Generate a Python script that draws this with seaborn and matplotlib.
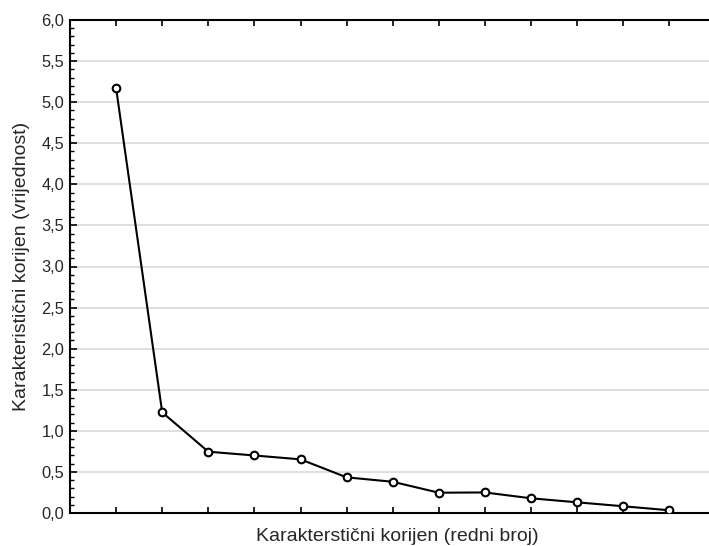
import matplotlib
matplotlib.use('Agg')
import matplotlib.pyplot as plt
import seaborn as sns
import pandas as pd
from matplotlib.ticker import FuncFormatter, MultipleLocator

# eigenvalues (scree plot)
root_number = list(range(1, 14))
eigenvalues = [5.17, 1.225, 0.746, 0.70, 0.653, 0.434, 0.38, 0.247, 0.25, 0.179, 0.13, 0.082, 0.033]

df = pd.DataFrame({'Root': root_number, 'Eigenvalue': eigenvalues})

sns.set_style('white')
plt.rcParams['font.family'] = ['Liberation Sans', 'DejaVu Sans']

fig = plt.figure(figsize = (7.09, 5.46), dpi = 100)
ax = fig.add_axes([70 / 709, 33 / 546, 639 / 709, 493 / 546])

sns.lineplot(x = 'Root', y = 'Eigenvalue', data = df, color = 'black', linewidth = 1.5,
             marker = 'o', markersize = 5.5, markerfacecolor = 'white', markeredgecolor = 'black',
             markeredgewidth = 1.5, ax = ax, zorder = 3)

ax.set_xlim(0, 13.86)
ax.set_ylim(0, 6)
ax.set_xticks(root_number)
ax.set_xticklabels([])
ax.yaxis.set_major_locator(MultipleLocator(0.5))
ax.yaxis.set_minor_locator(MultipleLocator(0.1))
ax.yaxis.set_major_formatter(FuncFormatter(lambda v, p: ('%.1f' % v).replace('.', ',')))
ax.grid(axis = 'y', color = '#d9d9d9', linewidth = 1.2, zorder = 0)
ax.set_axisbelow(True)

ax.tick_params(axis = 'x', which = 'major', direction = 'in', length = 4, width = 1.2,
               top = True, bottom = True, color = 'black')
ax.tick_params(axis = 'y', which = 'major', direction = 'in', length = 5, width = 1.2,
               left = True, right = False, labelsize = 11.8, color = 'black', pad = 4)
ax.tick_params(axis = 'y', which = 'minor', direction = 'in', length = 3, width = 1,
               left = True, right = False, color = 'black')

for side in ['left', 'bottom', 'top']:
    ax.spines[side].set_color('black')
    ax.spines[side].set_linewidth(1.5)
ax.spines['right'].set_visible(False)

ax.set_xlabel('Karakterstični korijen (redni broj)', fontsize = 14)
ax.set_ylabel('Karakteristični korijen (vrijednost)', fontsize = 14)
ax.xaxis.set_label_coords((397 - 70) / 639, -0.03)
ax.yaxis.set_label_coords(-0.062, 0.5)

plt.savefig('out.png', dpi = 100)
